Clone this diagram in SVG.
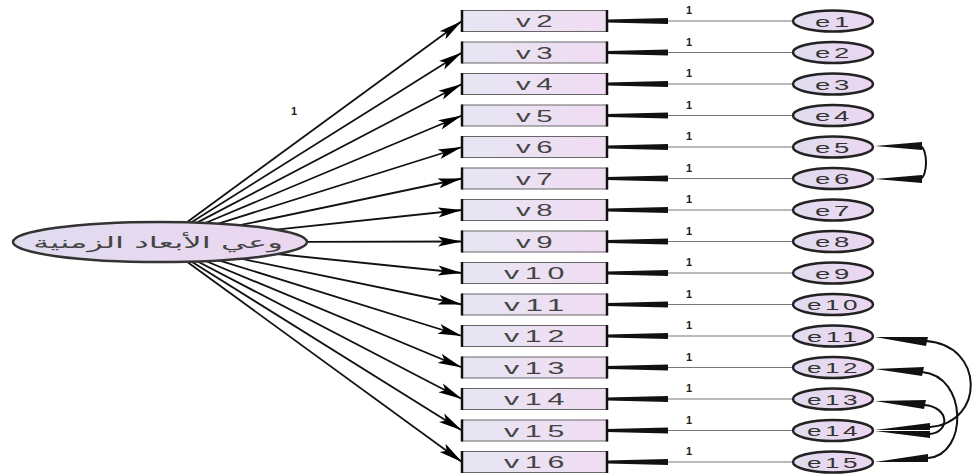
<svg xmlns="http://www.w3.org/2000/svg" width="973" height="476" viewBox="0 0 973 476">
<defs>
<linearGradient id="gb" x1="0" y1="0" x2="1" y2="0"><stop offset="0" stop-color="#e6e6f3"/><stop offset="1" stop-color="#f1dcf3"/></linearGradient>
<linearGradient id="ge" x1="0" y1="0" x2="1" y2="0"><stop offset="0" stop-color="#e0dcf0"/><stop offset="1" stop-color="#ecd6f0"/></linearGradient>
<marker id="ah" markerUnits="userSpaceOnUse" markerWidth="26" markerHeight="12" refX="24" refY="6" orient="auto"><path d="M0,1 L24,6 L0,11 L5,6 z" fill="#000"/></marker>
</defs>
<style>
.box{fill:url(#gb);stroke:#666;stroke-width:1}
.side{stroke:#111;stroke-width:2.5}
.err{fill:url(#ge);stroke:#222;stroke-width:2.5}
.lbl{font-family:"Liberation Sans",Arial,sans-serif;font-size:16px;fill:#444;text-anchor:middle;letter-spacing:3px}
.elbl{font-family:"Liberation Sans",Arial,sans-serif;font-size:15px;fill:#333;text-anchor:middle;letter-spacing:2px}
.one{font-family:"Liberation Sans",Arial,sans-serif;font-size:11px;font-weight:bold;fill:#222;text-anchor:middle}
.fan{stroke:#111;stroke-width:1.8;fill:none;marker-end:url(#ah)}
.thin{stroke:#777;stroke-width:1.2;fill:none}
.tip{fill:#111}
.cov{stroke:#111;stroke-width:2;fill:none}
</style>
<g id="connectors">
<line class="fan" x1="186.9" y1="222.3" x2="462" y2="21"/>
<line class="fan" x1="191.1" y1="222.5" x2="462" y2="52.5"/>
<line class="fan" x1="197.0" y1="222.6" x2="462" y2="84"/>
<line class="fan" x1="205.4" y1="223.0" x2="462" y2="115.5"/>
<line class="fan" x1="218.4" y1="223.6" x2="462" y2="147"/>
<line class="fan" x1="239.9" y1="225.2" x2="462" y2="178.5"/>
<line class="fan" x1="276.0" y1="229.7" x2="462" y2="210"/>
<line class="fan" x1="307.0" y1="241.8" x2="462" y2="241.5"/>
<line class="fan" x1="277.4" y1="254.0" x2="462" y2="273"/>
<line class="fan" x1="240.8" y1="258.7" x2="462" y2="304.5"/>
<line class="fan" x1="218.9" y1="260.3" x2="462" y2="336"/>
<line class="fan" x1="205.7" y1="261.0" x2="462" y2="367.5"/>
<line class="fan" x1="197.2" y1="261.3" x2="462" y2="399"/>
<line class="fan" x1="191.3" y1="261.5" x2="462" y2="430.5"/>
<line class="fan" x1="187.0" y1="261.7" x2="462" y2="462"/>
<text class="one" x="294" y="115">1</text>
<g id="err-links">
<line class="thin" x1="668" y1="21" x2="793" y2="21"/><polygon class="tip" points="607,19.5 668,18 668,24 607,22.5"/><text class="one" x="689" y="14">1</text>
<line class="thin" x1="668" y1="52.5" x2="793" y2="52.5"/><polygon class="tip" points="607,51 668,49.5 668,55.5 607,54"/><text class="one" x="689" y="45.5">1</text>
<line class="thin" x1="668" y1="84" x2="793" y2="84"/><polygon class="tip" points="607,82.5 668,81 668,87 607,85.5"/><text class="one" x="689" y="77">1</text>
<line class="thin" x1="668" y1="115.5" x2="793" y2="115.5"/><polygon class="tip" points="607,114 668,112.5 668,118.5 607,117"/><text class="one" x="689" y="108.5">1</text>
<line class="thin" x1="668" y1="147" x2="793" y2="147"/><polygon class="tip" points="607,145.5 668,144 668,150 607,148.5"/><text class="one" x="689" y="140">1</text>
<line class="thin" x1="668" y1="178.5" x2="793" y2="178.5"/><polygon class="tip" points="607,177 668,175.5 668,181.5 607,180"/><text class="one" x="689" y="171.5">1</text>
<line class="thin" x1="668" y1="210" x2="793" y2="210"/><polygon class="tip" points="607,208.5 668,207 668,213 607,211.5"/><text class="one" x="689" y="203">1</text>
<line class="thin" x1="668" y1="241.5" x2="793" y2="241.5"/><polygon class="tip" points="607,240 668,238.5 668,244.5 607,243"/><text class="one" x="689" y="234.5">1</text>
<line class="thin" x1="668" y1="273" x2="793" y2="273"/><polygon class="tip" points="607,271.5 668,270 668,276 607,274.5"/><text class="one" x="689" y="266">1</text>
<line class="thin" x1="668" y1="304.5" x2="793" y2="304.5"/><polygon class="tip" points="607,303 668,301.5 668,307.5 607,306"/><text class="one" x="689" y="297.5">1</text>
<line class="thin" x1="668" y1="336" x2="793" y2="336"/><polygon class="tip" points="607,334.5 668,333 668,339 607,337.5"/><text class="one" x="689" y="329">1</text>
<line class="thin" x1="668" y1="367.5" x2="793" y2="367.5"/><polygon class="tip" points="607,366 668,364.5 668,370.5 607,369"/><text class="one" x="689" y="360.5">1</text>
<line class="thin" x1="668" y1="399" x2="793" y2="399"/><polygon class="tip" points="607,397.5 668,396 668,402 607,400.5"/><text class="one" x="689" y="392">1</text>
<line class="thin" x1="668" y1="430.5" x2="793" y2="430.5"/><polygon class="tip" points="607,429 668,427.5 668,433.5 607,432"/><text class="one" x="689" y="423.5">1</text>
<line class="thin" x1="668" y1="462" x2="793" y2="462"/><polygon class="tip" points="607,460.5 668,459 668,465 607,463.5"/><text class="one" x="689" y="455">1</text>
</g>
<g id="covariances">
<polygon class="tip" points="875,146 922,142 922,150"/><polygon class="tip" points="875,179 922,175 922,183"/>
<path class="cov" d="M920,146 C928,148 928,177 920,179"/>
<polygon class="tip" points="875,337 928,337 926,346"/>
<polygon class="tip" points="875,369 924,367 922,376"/>
<polygon class="tip" points="875,401 926,400 924,409"/>
<polygon class="tip" points="875,430 930,423 930,430"/>
<polygon class="tip" points="875,431 930,431 930,438"/>
<polygon class="tip" points="875,462 928,454 928,462"/>
<path class="cov" d="M926,341 C985,345 985,423 930,427"/>
<path class="cov" d="M922,372 C968,376 968,455 928,458"/>
<path class="cov" d="M924,405 C950,407 950,432 930,434"/>
</g>
</g>
<g id="latent">
<ellipse cx="160" cy="242" rx="147" ry="20" fill="url(#ge)" stroke="#333" stroke-width="2.5"/>
<text x="158" y="248" font-family="'DejaVu Sans',sans-serif" font-size="16" fill="#444" text-anchor="middle" direction="rtl" textLength="250" lengthAdjust="spacingAndGlyphs">وعي الأبعاد الزمنية</text>
</g>
<g id="v2"><rect class="box" x="462" y="10.5" width="145" height="21"/><line class="side" x1="462" y1="10" x2="462" y2="32"/><line class="side" x1="607" y1="10" x2="607" y2="32"/><text class="lbl" x="537" y="27" textLength="42" lengthAdjust="spacingAndGlyphs">v2</text></g>
<g id="v3"><rect class="box" x="462" y="42" width="145" height="21"/><line class="side" x1="462" y1="41.5" x2="462" y2="63.5"/><line class="side" x1="607" y1="41.5" x2="607" y2="63.5"/><text class="lbl" x="537" y="58.5" textLength="42" lengthAdjust="spacingAndGlyphs">v3</text></g>
<g id="v4"><rect class="box" x="462" y="73.5" width="145" height="21"/><line class="side" x1="462" y1="73" x2="462" y2="95"/><line class="side" x1="607" y1="73" x2="607" y2="95"/><text class="lbl" x="537" y="90" textLength="42" lengthAdjust="spacingAndGlyphs">v4</text></g>
<g id="v5"><rect class="box" x="462" y="105" width="145" height="21"/><line class="side" x1="462" y1="104.5" x2="462" y2="126.5"/><line class="side" x1="607" y1="104.5" x2="607" y2="126.5"/><text class="lbl" x="537" y="121.5" textLength="42" lengthAdjust="spacingAndGlyphs">v5</text></g>
<g id="v6"><rect class="box" x="462" y="136.5" width="145" height="21"/><line class="side" x1="462" y1="136" x2="462" y2="158"/><line class="side" x1="607" y1="136" x2="607" y2="158"/><text class="lbl" x="537" y="153" textLength="42" lengthAdjust="spacingAndGlyphs">v6</text></g>
<g id="v7"><rect class="box" x="462" y="168" width="145" height="21"/><line class="side" x1="462" y1="167.5" x2="462" y2="189.5"/><line class="side" x1="607" y1="167.5" x2="607" y2="189.5"/><text class="lbl" x="537" y="184.5" textLength="42" lengthAdjust="spacingAndGlyphs">v7</text></g>
<g id="v8"><rect class="box" x="462" y="199.5" width="145" height="21"/><line class="side" x1="462" y1="199" x2="462" y2="221"/><line class="side" x1="607" y1="199" x2="607" y2="221"/><text class="lbl" x="537" y="216" textLength="42" lengthAdjust="spacingAndGlyphs">v8</text></g>
<g id="v9"><rect class="box" x="462" y="231" width="145" height="21"/><line class="side" x1="462" y1="230.5" x2="462" y2="252.5"/><line class="side" x1="607" y1="230.5" x2="607" y2="252.5"/><text class="lbl" x="537" y="247.5" textLength="42" lengthAdjust="spacingAndGlyphs">v9</text></g>
<g id="v10"><rect class="box" x="462" y="262.5" width="145" height="21"/><line class="side" x1="462" y1="262" x2="462" y2="284"/><line class="side" x1="607" y1="262" x2="607" y2="284"/><text class="lbl" x="537" y="279" textLength="66" lengthAdjust="spacingAndGlyphs">v10</text></g>
<g id="v11"><rect class="box" x="462" y="294" width="145" height="21"/><line class="side" x1="462" y1="293.5" x2="462" y2="315.5"/><line class="side" x1="607" y1="293.5" x2="607" y2="315.5"/><text class="lbl" x="537" y="310.5" textLength="66" lengthAdjust="spacingAndGlyphs">v11</text></g>
<g id="v12"><rect class="box" x="462" y="325.5" width="145" height="21"/><line class="side" x1="462" y1="325" x2="462" y2="347"/><line class="side" x1="607" y1="325" x2="607" y2="347"/><text class="lbl" x="537" y="342" textLength="66" lengthAdjust="spacingAndGlyphs">v12</text></g>
<g id="v13"><rect class="box" x="462" y="357" width="145" height="21"/><line class="side" x1="462" y1="356.5" x2="462" y2="378.5"/><line class="side" x1="607" y1="356.5" x2="607" y2="378.5"/><text class="lbl" x="537" y="373.5" textLength="66" lengthAdjust="spacingAndGlyphs">v13</text></g>
<g id="v14"><rect class="box" x="462" y="388.5" width="145" height="21"/><line class="side" x1="462" y1="388" x2="462" y2="410"/><line class="side" x1="607" y1="388" x2="607" y2="410"/><text class="lbl" x="537" y="405" textLength="66" lengthAdjust="spacingAndGlyphs">v14</text></g>
<g id="v15"><rect class="box" x="462" y="420" width="145" height="21"/><line class="side" x1="462" y1="419.5" x2="462" y2="441.5"/><line class="side" x1="607" y1="419.5" x2="607" y2="441.5"/><text class="lbl" x="537" y="436.5" textLength="66" lengthAdjust="spacingAndGlyphs">v15</text></g>
<g id="v16"><rect class="box" x="462" y="451.5" width="145" height="21"/><line class="side" x1="462" y1="451" x2="462" y2="473"/><line class="side" x1="607" y1="451" x2="607" y2="473"/><text class="lbl" x="537" y="468" textLength="66" lengthAdjust="spacingAndGlyphs">v16</text></g>
<g id="e1"><ellipse class="err" cx="833" cy="21" rx="40" ry="10.5"/><text class="elbl" x="834" y="26.5" textLength="38" lengthAdjust="spacingAndGlyphs">e1</text></g>
<g id="e2"><ellipse class="err" cx="833" cy="52.5" rx="40" ry="10.5"/><text class="elbl" x="834" y="58" textLength="38" lengthAdjust="spacingAndGlyphs">e2</text></g>
<g id="e3"><ellipse class="err" cx="833" cy="84" rx="40" ry="10.5"/><text class="elbl" x="834" y="89.5" textLength="38" lengthAdjust="spacingAndGlyphs">e3</text></g>
<g id="e4"><ellipse class="err" cx="833" cy="115.5" rx="40" ry="10.5"/><text class="elbl" x="834" y="121" textLength="38" lengthAdjust="spacingAndGlyphs">e4</text></g>
<g id="e5"><ellipse class="err" cx="833" cy="147" rx="40" ry="10.5"/><text class="elbl" x="834" y="152.5" textLength="38" lengthAdjust="spacingAndGlyphs">e5</text></g>
<g id="e6"><ellipse class="err" cx="833" cy="178.5" rx="40" ry="10.5"/><text class="elbl" x="834" y="184" textLength="38" lengthAdjust="spacingAndGlyphs">e6</text></g>
<g id="e7"><ellipse class="err" cx="833" cy="210" rx="40" ry="10.5"/><text class="elbl" x="834" y="215.5" textLength="38" lengthAdjust="spacingAndGlyphs">e7</text></g>
<g id="e8"><ellipse class="err" cx="833" cy="241.5" rx="40" ry="10.5"/><text class="elbl" x="834" y="247" textLength="38" lengthAdjust="spacingAndGlyphs">e8</text></g>
<g id="e9"><ellipse class="err" cx="833" cy="273" rx="40" ry="10.5"/><text class="elbl" x="834" y="278.5" textLength="38" lengthAdjust="spacingAndGlyphs">e9</text></g>
<g id="e10"><ellipse class="err" cx="833" cy="304.5" rx="40" ry="10.5"/><text class="elbl" x="834" y="310" textLength="54" lengthAdjust="spacingAndGlyphs">e10</text></g>
<g id="e11"><ellipse class="err" cx="833" cy="336" rx="40" ry="10.5"/><text class="elbl" x="834" y="341.5" textLength="54" lengthAdjust="spacingAndGlyphs">e11</text></g>
<g id="e12"><ellipse class="err" cx="833" cy="367.5" rx="40" ry="10.5"/><text class="elbl" x="834" y="373" textLength="54" lengthAdjust="spacingAndGlyphs">e12</text></g>
<g id="e13"><ellipse class="err" cx="833" cy="399" rx="40" ry="10.5"/><text class="elbl" x="834" y="404.5" textLength="54" lengthAdjust="spacingAndGlyphs">e13</text></g>
<g id="e14"><ellipse class="err" cx="833" cy="430.5" rx="40" ry="10.5"/><text class="elbl" x="834" y="436" textLength="54" lengthAdjust="spacingAndGlyphs">e14</text></g>
<g id="e15"><ellipse class="err" cx="833" cy="462" rx="40" ry="10.5"/><text class="elbl" x="834" y="467.5" textLength="54" lengthAdjust="spacingAndGlyphs">e15</text></g>
</svg>
